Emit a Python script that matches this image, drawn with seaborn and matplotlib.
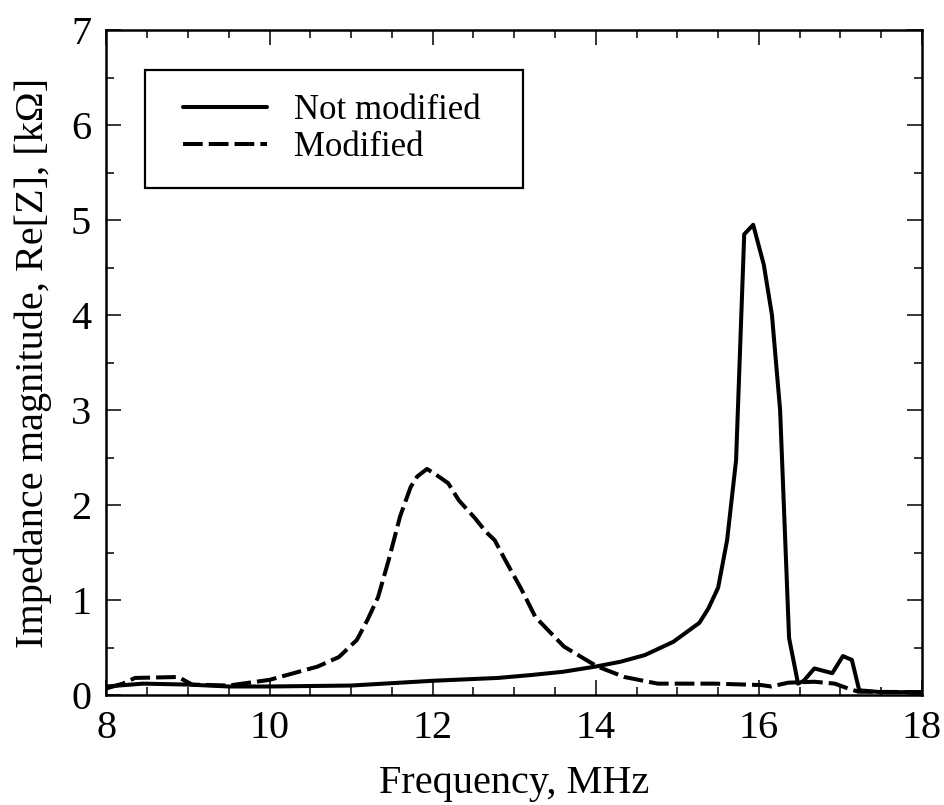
import matplotlib
matplotlib.use("Agg")
import matplotlib.pyplot as plt
from matplotlib.ticker import MultipleLocator
from matplotlib.legend_handler import HandlerLine2D
import numpy as np
import pandas as pd
import seaborn as sns

# values
freq_not = [8.0, 8.45, 9.0, 9.5, 10.0, 10.5, 11.0, 11.6, 12.0, 12.4, 12.8, 13.2,
            13.6, 14.0, 14.3, 14.6, 14.95, 15.27, 15.38, 15.5, 15.61, 15.72,
            15.82, 15.93, 16.06, 16.16, 16.26, 16.37, 16.48, 16.55, 16.68, 16.9,
            17.03, 17.14, 17.23, 17.5, 18.0]
z_not = [0.09, 0.12, 0.11, 0.09, 0.09, 0.095, 0.10, 0.13, 0.15, 0.165, 0.18, 0.21,
         0.245, 0.30, 0.35, 0.42, 0.56, 0.76, 0.91, 1.13, 1.63, 2.47,
         4.85, 4.95, 4.53, 4.0, 3.0, 0.6, 0.12, 0.15, 0.28, 0.23,
         0.41, 0.37, 0.05, 0.03, 0.03]

freq_mod = [8.0, 8.2, 8.35, 8.88, 9.05, 9.5, 10.0, 10.59, 10.85, 11.07, 11.2, 11.33,
            11.46, 11.6, 11.73, 11.81, 11.93, 12.04, 12.19, 12.32, 12.52, 12.65,
            12.76, 12.89, 13.09, 13.26, 13.61, 13.92, 14.02, 14.35, 14.76, 15.45,
            16.03, 16.15, 16.36, 16.68, 16.93, 17.09, 17.22, 18.0]
z_mod = [0.07, 0.12, 0.18, 0.19, 0.11, 0.10, 0.16, 0.30, 0.40, 0.58, 0.79, 1.03,
         1.42, 1.88, 2.19, 2.30, 2.38, 2.32, 2.23, 2.05, 1.86, 1.72,
         1.63, 1.42, 1.11, 0.82, 0.51, 0.35, 0.30, 0.19, 0.12, 0.12,
         0.105, 0.09, 0.13, 0.14, 0.12, 0.07, 0.035, 0.03]

labels = ["Not modified", "Modified"]

df_not = pd.DataFrame({"f": freq_not, "z": z_not})
df_mod = pd.DataFrame({"f": freq_mod, "z": z_mod})

sns.set_style("ticks")
plt.rcParams['font.family'] = ['Liberation Serif', 'DejaVu Serif']
plt.rcParams['text.color'] = 'black'
plt.rcParams['axes.labelcolor'] = 'black'

fig = plt.figure(figsize=(9.44, 8.05), dpi=100)
ax = fig.add_axes([0.1128, 0.1366, 0.8639, 0.8261])

sns.lineplot(data=df_not, x="f", y="z", color="black", lw=2.9, label=labels[0] + "  ",
             sort=False, ax=ax)
sns.lineplot(data=df_mod, x="f", y="z", color="black", lw=2.9, label=labels[1],
             sort=False, linestyle=(0, (4.9, 1.5)), ax=ax)

ax.set_xlim(8, 18)
ax.set_ylim(0, 7)
ax.xaxis.set_major_locator(MultipleLocator(2))
ax.xaxis.set_minor_locator(MultipleLocator(0.5))
ax.yaxis.set_major_locator(MultipleLocator(1))
ax.yaxis.set_minor_locator(MultipleLocator(0.5))
ax.tick_params(which="both", direction="in", top=True, right=True, width=1.1,
               labelsize=29, colors="black")
ax.tick_params(which="major", length=11, pad=11)
ax.tick_params(which="minor", length=6)
for s in ax.spines.values():
    s.set_linewidth(1.8)
    s.set_color("black")

ax.set_xlabel("Frequency, MHz", fontsize=29, labelpad=13, color="black")
ax.set_ylabel("Impedance magnitude, Re[Z], [k\u03a9]", fontsize=29, labelpad=14,
              color="black")

hmap = {ln: HandlerLine2D(xpad=0.4) for ln in ax.get_lines()}
leg = ax.legend(loc="upper left", bbox_to_anchor=(0.047, 0.94), borderaxespad=0,
                fontsize=25, frameon=True, fancybox=False, edgecolor="black",
                handlelength=2.82, handletextpad=0.78, labelspacing=0.1,
                borderpad=0.7, handler_map=hmap)
leg.get_frame().set_linewidth(1.6)
leg.get_frame().set_alpha(1)

fig.savefig("out.png", dpi=100)
